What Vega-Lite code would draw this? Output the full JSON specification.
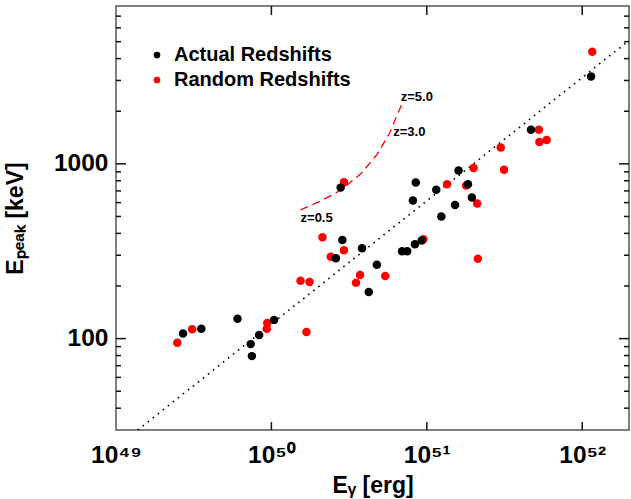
{
  "$schema": "https://vega.github.io/schema/vega-lite/v6.json",
  "width": 513,
  "height": 424,
  "autosize": {"type": "none"},
  "padding": {"left": 116, "top": 6, "right": 2, "bottom": 69},
  "background": "white",
  "config": {
    "view": {"stroke": "#555", "strokeWidth": 1.5},
    "font": "Liberation Sans",
    "axis": {
      "domain": false,
      "grid": false,
      "ticks": false,
      "labelFont": "Liberation Sans",
      "labelFontWeight": "bold",
      "labelFontSize": 24.5,
      "labelColor": "black",
      "labelOverlap": false,
      "labelFlush": false,
      "titleFont": "Liberation Sans",
      "titleFontWeight": "bold",
      "titleFontSize": 23,
      "titleColor": "black"
    }
  },
  "datasets": {
    "points": [
      {"E": 2.48e49, "Ep": 94.6, "sample": "Random Redshifts"},
      {"E": 3.09e49, "Ep": 113, "sample": "Random Redshifts"},
      {"E": 9.40e49, "Ep": 123, "sample": "Random Redshifts"},
      {"E": 9.34e49, "Ep": 114, "sample": "Random Redshifts"},
      {"E": 1.54e50, "Ep": 214, "sample": "Random Redshifts"},
      {"E": 1.76e50, "Ep": 211, "sample": "Random Redshifts"},
      {"E": 1.68e50, "Ep": 109, "sample": "Random Redshifts"},
      {"E": 2.13e50, "Ep": 380, "sample": "Random Redshifts"},
      {"E": 2.41e50, "Ep": 294, "sample": "Random Redshifts"},
      {"E": 2.93e50, "Ep": 785, "sample": "Random Redshifts"},
      {"E": 2.93e50, "Ep": 320, "sample": "Random Redshifts"},
      {"E": 3.50e50, "Ep": 209, "sample": "Random Redshifts"},
      {"E": 3.72e50, "Ep": 231, "sample": "Random Redshifts"},
      {"E": 5.40e50, "Ep": 228, "sample": "Random Redshifts"},
      {"E": 9.50e50, "Ep": 370, "sample": "Random Redshifts"},
      {"E": 1.35e51, "Ep": 765, "sample": "Random Redshifts"},
      {"E": 1.79e51, "Ep": 751, "sample": "Random Redshifts"},
      {"E": 2.00e51, "Ep": 948, "sample": "Random Redshifts"},
      {"E": 2.11e51, "Ep": 593, "sample": "Random Redshifts"},
      {"E": 2.13e51, "Ep": 286, "sample": "Random Redshifts"},
      {"E": 2.99e51, "Ep": 1240, "sample": "Random Redshifts"},
      {"E": 3.14e51, "Ep": 924, "sample": "Random Redshifts"},
      {"E": 5.26e51, "Ep": 1566, "sample": "Random Redshifts"},
      {"E": 5.30e51, "Ep": 1332, "sample": "Random Redshifts"},
      {"E": 5.90e51, "Ep": 1367, "sample": "Random Redshifts"},
      {"E": 1.16e52, "Ep": 4385, "sample": "Random Redshifts"},
      {"E": 2.70e49, "Ep": 107, "sample": "Actual Redshifts"},
      {"E": 3.54e49, "Ep": 114, "sample": "Actual Redshifts"},
      {"E": 6.05e49, "Ep": 130, "sample": "Actual Redshifts"},
      {"E": 7.36e49, "Ep": 93, "sample": "Actual Redshifts"},
      {"E": 7.49e49, "Ep": 79.4, "sample": "Actual Redshifts"},
      {"E": 8.34e49, "Ep": 105, "sample": "Actual Redshifts"},
      {"E": 1.04e50, "Ep": 128, "sample": "Actual Redshifts"},
      {"E": 2.60e50, "Ep": 288, "sample": "Actual Redshifts"},
      {"E": 2.79e50, "Ep": 731, "sample": "Actual Redshifts"},
      {"E": 2.86e50, "Ep": 367, "sample": "Actual Redshifts"},
      {"E": 3.83e50, "Ep": 329, "sample": "Actual Redshifts"},
      {"E": 4.23e50, "Ep": 185, "sample": "Actual Redshifts"},
      {"E": 4.77e50, "Ep": 265, "sample": "Actual Redshifts"},
      {"E": 6.93e50, "Ep": 316, "sample": "Actual Redshifts"},
      {"E": 7.48e50, "Ep": 316, "sample": "Actual Redshifts"},
      {"E": 8.14e50, "Ep": 616, "sample": "Actual Redshifts"},
      {"E": 8.49e50, "Ep": 781, "sample": "Actual Redshifts"},
      {"E": 8.39e50, "Ep": 347, "sample": "Actual Redshifts"},
      {"E": 9.28e50, "Ep": 364, "sample": "Actual Redshifts"},
      {"E": 1.15e51, "Ep": 710, "sample": "Actual Redshifts"},
      {"E": 1.24e51, "Ep": 499, "sample": "Actual Redshifts"},
      {"E": 1.52e51, "Ep": 582, "sample": "Actual Redshifts"},
      {"E": 1.60e51, "Ep": 916, "sample": "Actual Redshifts"},
      {"E": 1.84e51, "Ep": 765, "sample": "Actual Redshifts"},
      {"E": 1.95e51, "Ep": 641, "sample": "Actual Redshifts"},
      {"E": 4.68e51, "Ep": 1566, "sample": "Actual Redshifts"},
      {"E": 1.14e52, "Ep": 3162, "sample": "Actual Redshifts"}
    ],
    "fit": [
      {"E": 1.38e49, "Ep": 30},
      {"E": 2e52, "Ep": 5080}
    ],
    "curve": [
      {"E": 1.54e50, "Ep": 545},
      {"E": 2.09e50, "Ep": 614},
      {"E": 2.82e50, "Ep": 710},
      {"E": 3.80e50, "Ep": 885},
      {"E": 4.82e50, "Ep": 1141},
      {"E": 5.76e50, "Ep": 1500},
      {"E": 6.88e50, "Ep": 2178}
    ],
    "zlabels": [
      {"E": 1.54e50, "Ep": 492, "label": "z=0.5"},
      {"E": 6.08e50, "Ep": 1525, "label": "z=3.0"},
      {"E": 6.8e50, "Ep": 2421, "label": "z=5.0"}
    ],
    "xticks": [{"v": 1e50}, {"v": 1e51}, {"v": 1e52}],
    "yticks": [
      {"v": 40, "major": false}, {"v": 50, "major": false}, {"v": 60, "major": false}, {"v": 70, "major": false},
      {"v": 80, "major": false}, {"v": 90, "major": false}, {"v": 100, "major": true},
      {"v": 200, "major": false}, {"v": 300, "major": false}, {"v": 400, "major": false}, {"v": 500, "major": false},
      {"v": 600, "major": false}, {"v": 700, "major": false}, {"v": 800, "major": false}, {"v": 900, "major": false},
      {"v": 1000, "major": true},
      {"v": 2000, "major": false}, {"v": 3000, "major": false}, {"v": 4000, "major": false}, {"v": 5000, "major": false},
      {"v": 6000, "major": false}, {"v": 7000, "major": false}
    ]
  },
  "layer": [
    {
      "data": {"name": "fit"},
      "mark": {"type": "line", "color": "black", "strokeDash": [1.6, 4.8], "strokeWidth": 1.6, "clip": true},
      "encoding": {
        "x": {
          "field": "E", "type": "quantitative",
          "scale": {"type": "log", "domain": [1e49, 2e52], "nice": false},
          "axis": {
            "orient": "bottom",
            "values": [1e49, 1e50, 1e51, 1e52],
            "labelPadding": 13,
            "labelExpr": "datum.value == 1e49 ? '10⁴⁹' : datum.value == 1e50 ? '10⁵⁰' : datum.value == 1e51 ? '10⁵¹' : '10⁵²'",
            "title": "Eᵧ [erg]",
            "titlePadding": 8
          }
        },
        "y": {
          "field": "Ep", "type": "quantitative",
          "scale": {"type": "log", "domain": [30, 8000], "nice": false},
          "axis": {
            "orient": "left",
            "values": [100, 1000],
            "labelPadding": 8,
            "labelExpr": "datum.value == 100 ? '100' : '1000'",
            "title": "Eₚₑₐₖ [keV]",
            "titlePadding": 26
          }
        }
      }
    },
    {
      "data": {"name": "xticks"},
      "mark": {"type": "rule", "color": "#111", "strokeWidth": 1.5},
      "encoding": {
        "x": {"field": "v", "type": "quantitative"},
        "y": {"datum": 30, "type": "quantitative"},
        "y2": {"datum": 33.3}
      }
    },
    {
      "data": {"name": "xticks"},
      "mark": {"type": "rule", "color": "#111", "strokeWidth": 1.5},
      "encoding": {
        "x": {"field": "v", "type": "quantitative"},
        "y": {"datum": 8000, "type": "quantitative"},
        "y2": {"datum": 7100}
      }
    },
    {
      "data": {"name": "yticks"},
      "transform": [{"filter": "datum.major"}],
      "mark": {"type": "rule", "color": "#111", "strokeWidth": 1.5},
      "encoding": {
        "y": {"field": "v", "type": "quantitative"},
        "x": {"datum": 1e49, "type": "quantitative"},
        "x2": {"datum": 1.16e49}
      }
    },
    {
      "data": {"name": "yticks"},
      "transform": [{"filter": "!datum.major"}],
      "mark": {"type": "rule", "color": "#111", "strokeWidth": 1.5},
      "encoding": {
        "y": {"field": "v", "type": "quantitative"},
        "x": {"datum": 1e49, "type": "quantitative"},
        "x2": {"datum": 1.077e49}
      }
    },
    {
      "data": {"name": "yticks"},
      "transform": [{"filter": "datum.major"}],
      "mark": {"type": "rule", "color": "#111", "strokeWidth": 1.5},
      "encoding": {
        "y": {"field": "v", "type": "quantitative"},
        "x": {"datum": 2e52, "type": "quantitative"},
        "x2": {"datum": 1.726e52}
      }
    },
    {
      "data": {"name": "yticks"},
      "transform": [{"filter": "!datum.major"}],
      "mark": {"type": "rule", "color": "#111", "strokeWidth": 1.5},
      "encoding": {
        "y": {"field": "v", "type": "quantitative"},
        "x": {"datum": 2e52, "type": "quantitative"},
        "x2": {"datum": 1.857e52}
      }
    },
    {
      "data": {"name": "curve"},
      "mark": {"type": "line", "color": "#ff0000", "strokeDash": [8, 5], "strokeWidth": 1.3},
      "encoding": {
        "x": {"field": "E", "type": "quantitative"},
        "y": {"field": "Ep", "type": "quantitative"}
      }
    },
    {
      "data": {"name": "points"},
      "mark": {"type": "point", "filled": true, "size": 72, "opacity": 1, "shape": "circle"},
      "encoding": {
        "x": {"field": "E", "type": "quantitative"},
        "y": {"field": "Ep", "type": "quantitative"},
        "color": {
          "field": "sample", "type": "nominal",
          "scale": {"domain": ["Actual Redshifts", "Random Redshifts"], "range": ["#000000", "#ff0000"]},
          "legend": {
            "orient": "none", "legendX": 31, "legendY": 39, "title": null,
            "labelFont": "Liberation Sans", "labelFontWeight": "bold", "labelFontSize": 20, "labelColor": "black", "labelLimit": 0,
            "symbolSize": 45, "symbolType": "circle", "labelOffset": 7, "rowPadding": 5, "padding": 0, "symbolStrokeWidth": 0,
            "encode": {"symbols": {"update": {"size": {"value": 45}}}}
          }
        }
      }
    },
    {
      "data": {"name": "zlabels"},
      "mark": {"type": "text", "align": "left", "baseline": "middle", "font": "Liberation Sans", "fontWeight": "bold", "fontSize": 13, "color": "black"},
      "encoding": {
        "x": {"field": "E", "type": "quantitative"},
        "y": {"field": "Ep", "type": "quantitative"},
        "text": {"field": "label"}
      }
    }
  ]
}
